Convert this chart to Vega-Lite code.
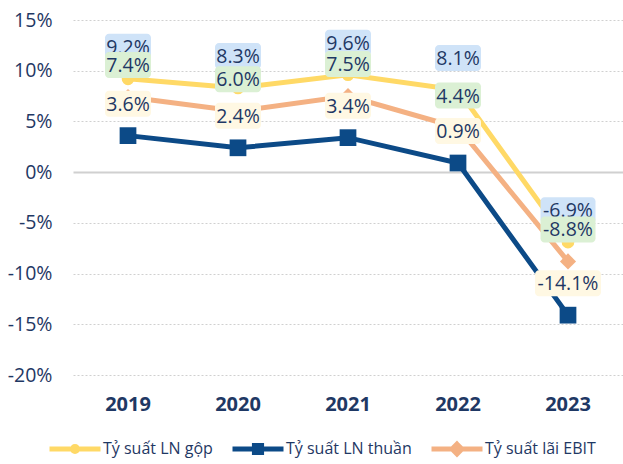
{
  "$schema": "https://vega.github.io/schema/vega-lite/v6.json",
  "width": 550,
  "height": 355,
  "autosize": "none",
  "padding": {"left": 73, "top": 20, "right": 0, "bottom": 89},
  "background": "white",
  "config": {
    "view": {"stroke": null},
    "font": "Open Sans",
    "locale": {"number": {"decimal": ".", "thousands": ",", "grouping": [3], "currency": ["$", ""], "minus": "-"}}
  },
  "data": {"values": [
    {"year": "2019", "series": "Tỷ suất LN gộp", "value": 0.092},
    {"year": "2020", "series": "Tỷ suất LN gộp", "value": 0.083},
    {"year": "2021", "series": "Tỷ suất LN gộp", "value": 0.096},
    {"year": "2022", "series": "Tỷ suất LN gộp", "value": 0.081},
    {"year": "2023", "series": "Tỷ suất LN gộp", "value": -0.069},
    {"year": "2019", "series": "Tỷ suất LN thuần", "value": 0.036},
    {"year": "2020", "series": "Tỷ suất LN thuần", "value": 0.024},
    {"year": "2021", "series": "Tỷ suất LN thuần", "value": 0.034},
    {"year": "2022", "series": "Tỷ suất LN thuần", "value": 0.009},
    {"year": "2023", "series": "Tỷ suất LN thuần", "value": -0.141},
    {"year": "2019", "series": "Tỷ suất lãi EBIT", "value": 0.074},
    {"year": "2020", "series": "Tỷ suất lãi EBIT", "value": 0.060},
    {"year": "2021", "series": "Tỷ suất lãi EBIT", "value": 0.075},
    {"year": "2022", "series": "Tỷ suất lãi EBIT", "value": 0.044},
    {"year": "2023", "series": "Tỷ suất lãi EBIT", "value": -0.088}
  ]},
  "encoding": {
    "x": {"field": "year", "type": "nominal", "title": null,
      "scale": {"paddingInner": 0, "paddingOuter": 0},
      "axis": {"labelAngle": 0, "domain": false, "ticks": false, "labelPadding": 19, "labelFontSize": 20, "labelFontWeight": "bold", "labelColor": "#1F3864", "labelFont": "Open Sans"}},
    "y": {"field": "value", "type": "quantitative", "title": null,
      "scale": {"domain": [-0.2, 0.15], "nice": false, "zero": false},
      "axis": {"values": [-0.2, -0.15, -0.1, -0.05, 0, 0.05, 0.1, 0.15], "format": ".0%", "domain": false, "ticks": false, "labelPadding": 21, "labelFontSize": 19.5, "labelColor": "#1F3864", "labelFont": "Open Sans",
        "gridColor": "#D0D0D0",
        "gridDash": {"condition": {"test": "abs(datum.value) < 1e-9", "value": []}, "value": [2, 2]},
        "gridWidth": {"condition": {"test": "abs(datum.value) < 1e-9", "value": 2}, "value": 1}}}
  },
  "layer": [
    {
      "mark": {"type": "line", "strokeWidth": 5},
      "encoding": {
        "color": {"field": "series", "type": "nominal",
          "scale": {"domain": ["Tỷ suất LN gộp", "Tỷ suất LN thuần", "Tỷ suất lãi EBIT"], "range": ["#FFD966", "#0C4A87", "#F4B183"]},
          "legend": {"orient": "none", "direction": "horizontal", "legendX": -26, "legendY": 401, "title": null, "gridAlign": "none",
            "symbolSize": 2601, "symbolStrokeWidth": 5, "labelFontSize": 16, "labelColor": "#1F3864", "labelFont": "Open Sans", "labelOffset": 0, "columnPadding": 9,
            "encode": {"symbols": {"update": {
              "shape": {"signal": "datum.value === 'Tỷ suất LN gộp' ? 'M-1,0H1M0.1,0A0.1,0.1 0 1,1 -0.1,0A0.1,0.1 0 1,1 0.1,0Z' : datum.value === 'Tỷ suất LN thuần' ? 'M-1,0H1M-0.14,-0.14H0.14V0.14H-0.14Z' : 'M-1,0H1M0,-0.19L0.19,0L0,0.19L-0.19,0Z'"},
              "fill": {"scale": "color", "field": "value"},
              "stroke": {"scale": "color", "field": "value"},
              "strokeWidth": {"value": 5},
              "opacity": {"value": 1},
              "fillOpacity": {"value": 1}
            }}}}},
        "order": {"field": "year"}
      }
    },
    {
      "transform": [{"filter": "datum.series === 'Tỷ suất LN gộp'"}],
      "mark": {"type": "point", "shape": "circle", "size": 160, "filled": true, "opacity": 1},
      "encoding": {"color": {"field": "series", "type": "nominal"}}
    },
    {
      "transform": [{"filter": "datum.series === 'Tỷ suất LN thuần'"}],
      "mark": {"type": "point", "shape": "square", "size": 280, "filled": true, "opacity": 1},
      "encoding": {"color": {"field": "series", "type": "nominal"}}
    },
    {
      "transform": [{"filter": "datum.series === 'Tỷ suất lãi EBIT'"}],
      "mark": {"type": "point", "shape": "diamond", "size": 260, "filled": true, "opacity": 1},
      "encoding": {"color": {"field": "series", "type": "nominal"}}
    },
    {
      "transform": [{"filter": "datum.series === 'Tỷ suất LN gộp' && datum.value >= 0"}],
      "mark": {"type": "rect", "width": 46, "yOffset": -45, "y2Offset": -19, "cornerRadius": 4, "color": "#CFE3F8"},
      "encoding": {"y2": {"field": "value"}}
    },
    {
      "transform": [{"filter": "datum.series === 'Tỷ suất LN gộp' && datum.value < 0"}],
      "mark": {"type": "rect", "width": 55, "yOffset": -45, "y2Offset": -19, "cornerRadius": 4, "color": "#CFE3F8"},
      "encoding": {"y2": {"field": "value"}}
    },
    {
      "transform": [{"filter": "datum.series === 'Tỷ suất LN gộp'"}],
      "mark": {"type": "text", "yOffset": -31, "baseline": "middle", "fontSize": 19.5, "font": "Open Sans", "color": "#1F3864"},
      "encoding": {"text": {"field": "value", "format": ".1%"}}
    },
    {
      "transform": [{"filter": "datum.series === 'Tỷ suất lãi EBIT' && datum.value >= 0"}],
      "mark": {"type": "rect", "width": 46, "yOffset": -45, "y2Offset": -19, "cornerRadius": 4, "color": "#DBF0D4"},
      "encoding": {"y2": {"field": "value"}}
    },
    {
      "transform": [{"filter": "datum.series === 'Tỷ suất lãi EBIT' && datum.value < 0"}],
      "mark": {"type": "rect", "width": 55, "yOffset": -45, "y2Offset": -19, "cornerRadius": 4, "color": "#DBF0D4"},
      "encoding": {"y2": {"field": "value"}}
    },
    {
      "transform": [{"filter": "datum.series === 'Tỷ suất lãi EBIT'"}],
      "mark": {"type": "text", "yOffset": -31, "baseline": "middle", "fontSize": 19.5, "font": "Open Sans", "color": "#1F3864"},
      "encoding": {"text": {"field": "value", "format": ".1%"}}
    },
    {
      "transform": [{"filter": "datum.series === 'Tỷ suất LN thuần' && datum.value >= 0"}],
      "mark": {"type": "rect", "width": 46, "yOffset": -45, "y2Offset": -19, "cornerRadius": 4, "color": "#FFF8E3"},
      "encoding": {"y2": {"field": "value"}}
    },
    {
      "transform": [{"filter": "datum.series === 'Tỷ suất LN thuần' && datum.value < 0"}],
      "mark": {"type": "rect", "width": 66, "yOffset": -45, "y2Offset": -19, "cornerRadius": 4, "color": "#FFF8E3"},
      "encoding": {"y2": {"field": "value"}}
    },
    {
      "transform": [{"filter": "datum.series === 'Tỷ suất LN thuần'"}],
      "mark": {"type": "text", "yOffset": -31, "baseline": "middle", "fontSize": 19.5, "font": "Open Sans", "color": "#1F3864"},
      "encoding": {"text": {"field": "value", "format": ".1%"}}
    }
  ]
}
